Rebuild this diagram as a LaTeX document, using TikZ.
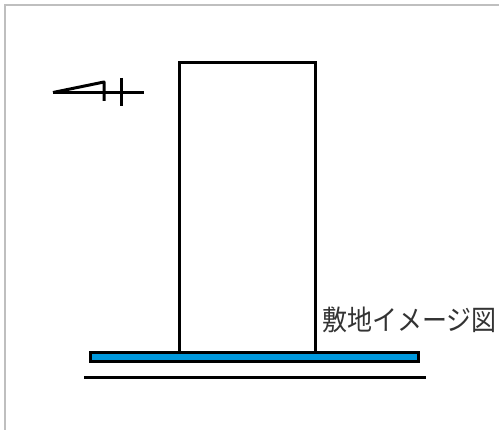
\documentclass[tikz,border=0pt]{standalone}
\usepackage{fontspec}
\newfontfamily\cjk{Noto Sans CJK JP}
\definecolor{siteblue}{HTML}{0099DD}
\tikzset{
  ink/.style={draw=black,line width=3pt},
  frameline/.style={draw=black!25,line width=1.6pt},
  caption/.style={font=\cjk\fontsize{25}{25}\selectfont,text=black!80,inner sep=0pt,anchor=center}
}
\begin{document}
\begin{tikzpicture}[x=1pt,y=-1pt]
\useasboundingbox (0,0) rectangle (499,430);
\fill[white] (0,0) rectangle (499,430);
\coordinate (ftl) at (5,5);
\coordinate (ftr) at (499,5);
\coordinate (fbl) at (5,430);
\draw[frameline] (fbl) -- (ftl) -- (ftr);
% building
\node[ink,inner sep=0pt,minimum width=136pt,minimum height=289.5pt] (bldg) at (247.5,207.5) {};
% site band
\node[ink,fill=siteblue,inner sep=0pt,minimum width=327.5pt,minimum height=9.5pt] (band) at (254.5,357) {};
% ground
\coordinate (g1) at (84,377.5);
\coordinate (g2) at (426,377.5);
\draw[ink,line width=2.6pt] (g1) -- (g2);
% north mark
\coordinate (n1) at (53,92.5);
\coordinate (n2) at (104,82);
\coordinate (n3) at (104,101);
\coordinate (n4) at (144,92.5);
\coordinate (n5) at (121,78);
\coordinate (n6) at (121,106);
\draw[ink,line join=round] (n1) -- (n4);
\draw[ink,line join=round] (n1) -- (n2) -- (n3);
\draw[ink] (n5) -- (n6);
\node[caption] (cap) at (409.5,319.5) {\scalebox{1}[1.12]{敷地イメージ図}};
\end{tikzpicture}
\end{document}
